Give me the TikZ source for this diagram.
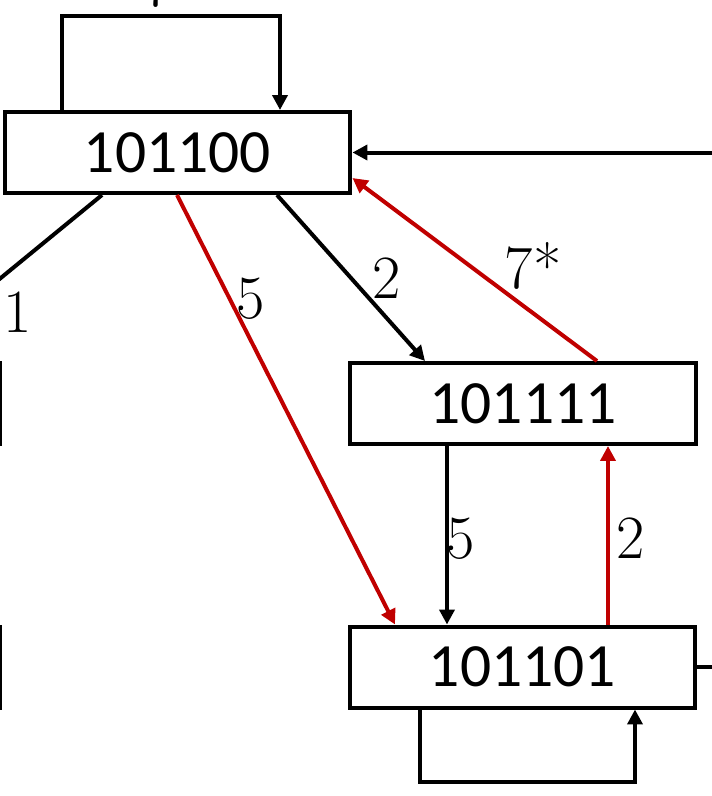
\documentclass[tikz,border=0pt]{standalone}
\usepackage{fontspec}
\newfontfamily\boxfont{Carlito}
\usetikzlibrary{arrows.meta}
\definecolor{pathred}{RGB}{192,0,0}

\begin{document}
\begin{tikzpicture}[x=0.02cm,y=-0.02cm,
  state/.style={draw,line width=0.08cm,minimum width=6.92cm,minimum height=1.62cm,inner sep=0pt,font=\boxfont\fontsize{35}{40}\selectfont},
  edge/.style={line width=0.08cm,-{Triangle[length=0.3cm,width=0.3cm]}},
  redge/.style={edge,draw=pathred},
  wt/.style={font=\rmfamily\fontsize{35}{40}\selectfont,anchor=base,inner sep=0pt}]
\useasboundingbox (0,0) rectangle (712,796);
\clip (0,0) rectangle (712,796);
% states
\node[state] (s100) at (177.5,152.5) {101100};
\node[state] (s111) at (523,403.5) {101111};
\node[state] (s101) at (522.5,667) {101101};
\node[state,anchor=east] (lft1) at (2,403.5) {};
\node[state,anchor=east] (lft2) at (2,667) {};
\coordinate (rin) at (730,152.5);
\coordinate (rout) at (730,667);
\coordinate (lout) at (-20,295);
% self loops
\draw[edge] (s100.north -| 62,0) -- ++(0,-94) -| (s100.north -| 280,0);
\draw[edge] (s101.south -| 420,0) -- ++(0,72) -| (s101.south -| 635,0);
% transitions
\draw[edge] (rin) -- (s100.east);
\draw[line width=0.08cm] (s101.east) -- (rout);
\draw[line width=0.08cm] (s100.south -| 102,0) -- (lout);
\draw[edge] (s100.south -| 277,0) -- (s111.north -| 425,0);
\draw[redge] (s100.south -| 177,0) -- (s101.north -| 395,0);
\draw[redge] (s111.north -| 597,0) -- (s100.east |- 0,178);
\draw[edge] (s111.south -| 447,0) -- (s101.north -| 447,0);
\draw[redge] (s101.north -| 608,0) -- (s111.south -| 608,0);
% weights
\node[wt] (w7) at (158,6) {7};
\node[wt] (w1) at (18,332) {1};
\node[wt] (w2a) at (387,298) {2};
\node[wt] (w5a) at (251,318) {5};
\node[wt] (w7s) at (533,288) {7*};
\node[wt] (w5b) at (461,558) {5};
\node[wt] (w2b) at (631,558) {2};
\end{tikzpicture}
\end{document}
